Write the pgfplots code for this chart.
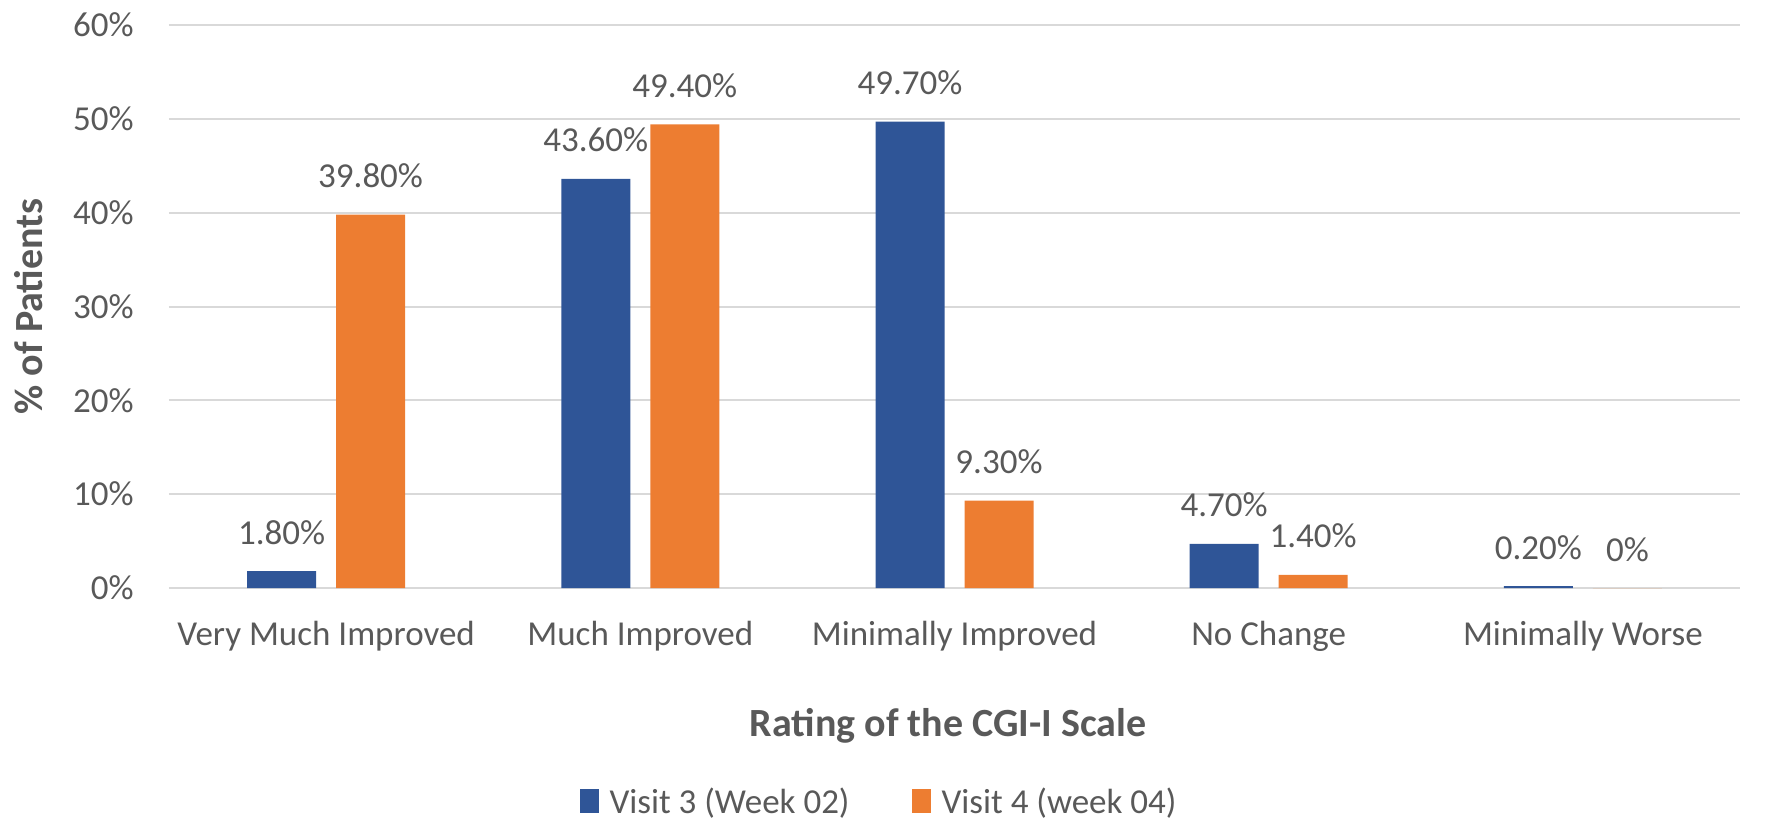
\documentclass[border=0pt]{standalone}
\usepackage{fontspec}
\setmainfont{Carlito}
\usepackage{pgfplots}
\pgfplotsset{compat=1.18}
\definecolor{cblue}{HTML}{2F5597}
\definecolor{corange}{HTML}{ED7D31}
\definecolor{ctext}{HTML}{595959}
\definecolor{cgrid}{HTML}{D9D9D9}
\begin{document}
\begin{tikzpicture}
\useasboundingbox (-84.5pt,-121.5pt) rectangle (801.5pt,294pt);
\begin{axis}[
  at={(0pt,0pt)}, anchor=south west,
  scale only axis, width=785.5pt, height=281.5pt,
  ybar=10pt, bar width=34.5pt,
  xmin=-0.5, xmax=4.5, ymin=0, ymax=60,
  xtick={0,1,2,3,4},
  xticklabels={Very Much Improved, Much Improved, Minimally Improved, No Change, Minimally Worse},
  ytick={0,10,20,30,40,50,60},
  yticklabel={\pgfmathprintnumber{\tick}\%},
  /pgf/number format/assume math mode=true,
  axis line style={draw=none},
  major tick length=0pt,
  ymajorgrids, grid style={cgrid, line width=1pt},
  tick label style={text=ctext, font=\fontsize{17.5}{21}\selectfont},
  yticklabel style={anchor=east, inner sep=0pt, xshift=-17.5pt},
  xticklabel style={anchor=base, inner sep=0pt, yshift=-28.5pt},
  xlabel={Rating of the CGI-I Scale},
  ylabel={\% of Patients},
  label style={text=ctext, font=\bfseries\fontsize{20}{24}\selectfont},
  xlabel style={at={(axis description cs:0.496,-0.2629)}, anchor=base, inner sep=0pt},
  ylabel style={at={(axis description cs:-0.0894,0.5)}, anchor=center, inner sep=0pt},
  point meta=explicit symbolic,
  nodes near coords,
  every node near coord/.append style={anchor=base, inner sep=0pt, yshift=13.5pt, text=ctext, font=\fontsize{17.5}{21}\selectfont},
  legend style={draw=none, fill=none, at={(axis description cs:0.4526,-0.38)}, anchor=center,
    legend columns=2, /tikz/every even column/.append style={column sep=29pt},
    font=\fontsize{17.5}{21}\selectfont, text=ctext},
  legend image code/.code={\fill[#1] (0pt,-5.5pt) rectangle (9.5pt,6.5pt); \path (13pt,0pt);},
]
\addplot[fill=cblue, draw=none] coordinates {(0,1.8)[1.80\%] (1,43.6)[43.60\%] (2,49.7)[49.70\%] (3,4.7)[4.70\%] (4,0.2)[0.20\%]};
\addplot[fill=corange, draw=none] coordinates {(0,39.8)[39.80\%] (1,49.4)[49.40\%] (2,9.3)[9.30\%] (3,1.4)[1.40\%] (4,0)[0\%]};
\legend{Visit 3 (Week 02), Visit 4 (week 04)}
\end{axis}
\end{tikzpicture}
\end{document}
